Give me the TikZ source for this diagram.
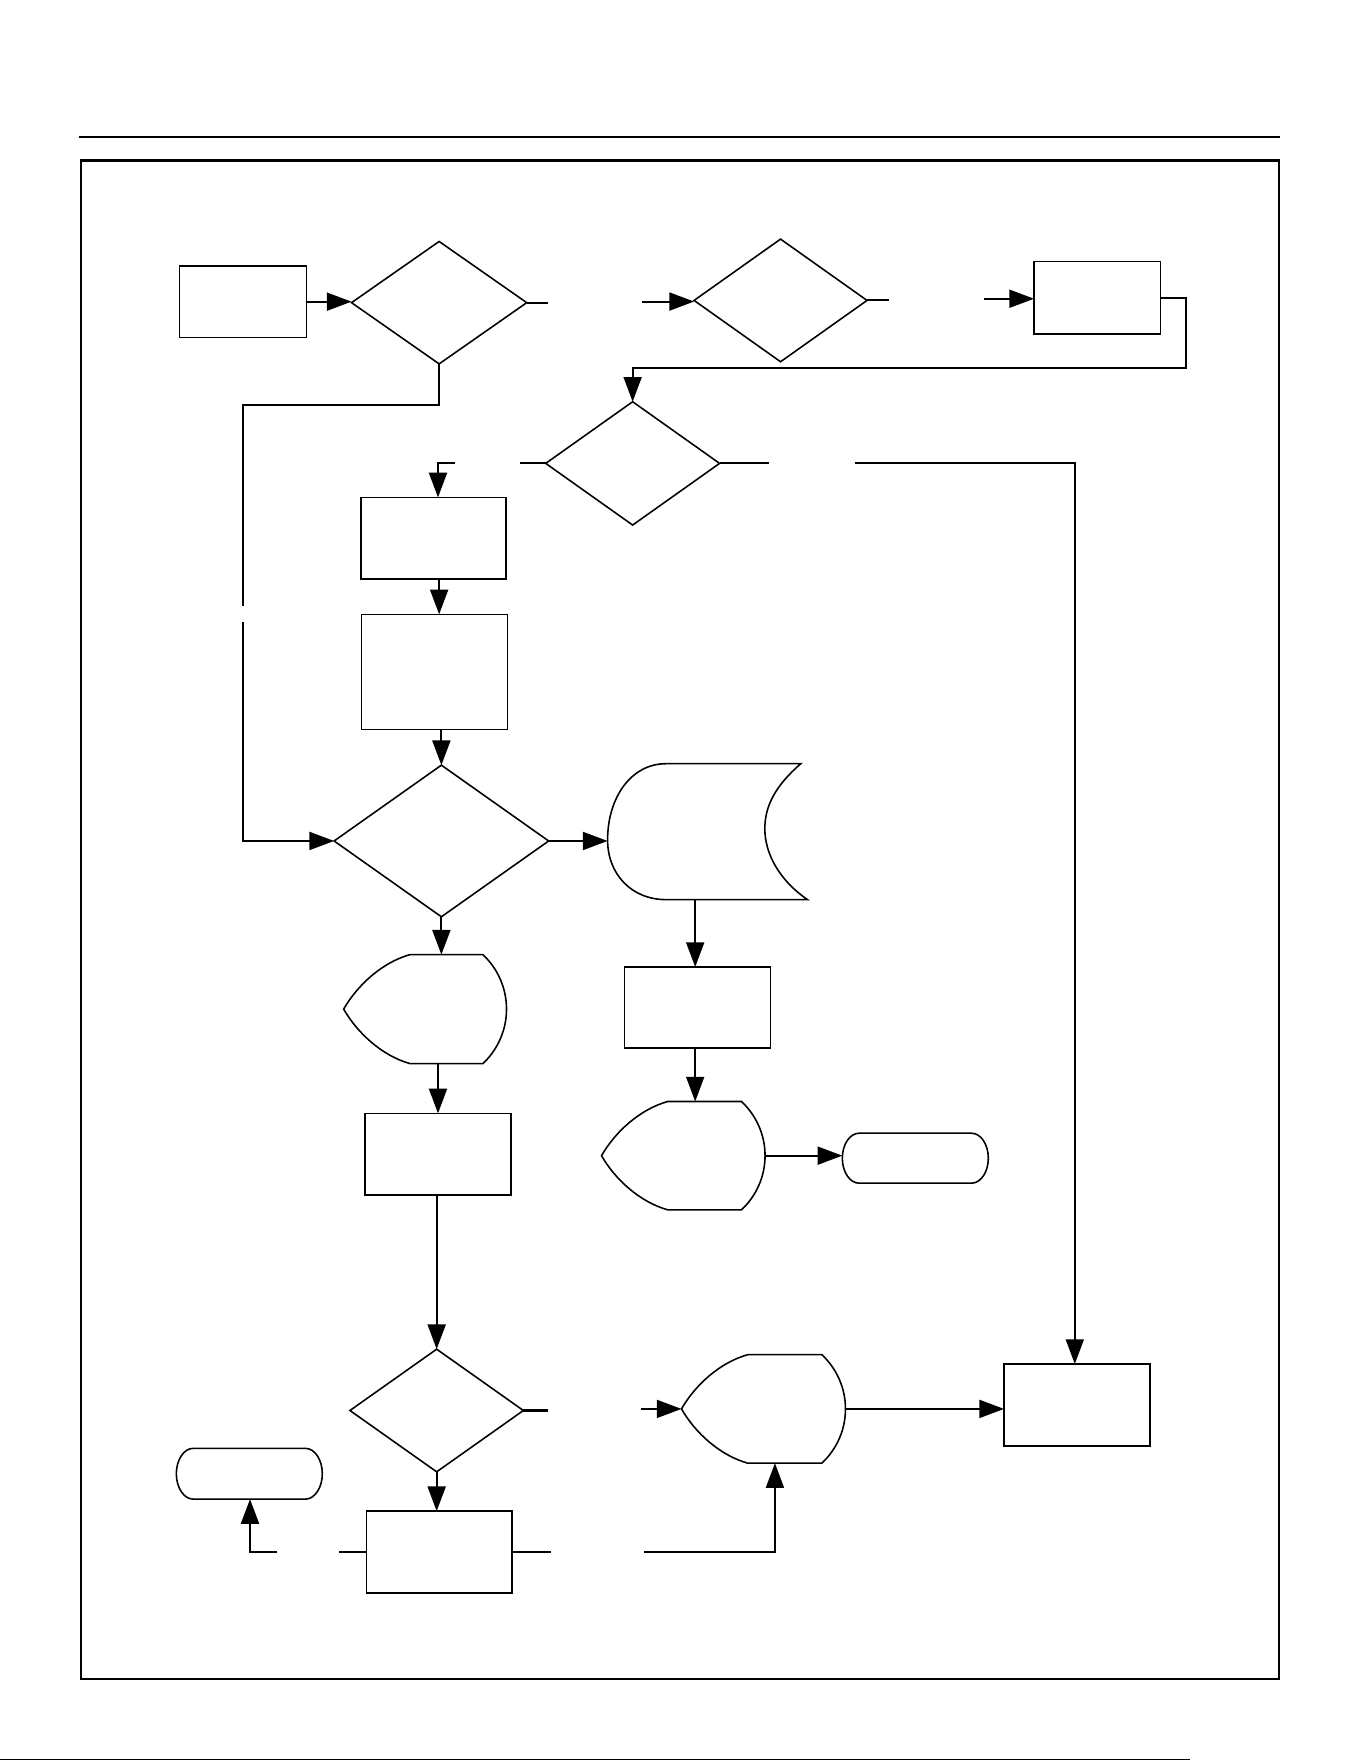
\documentclass[tikz,border=0pt]{standalone}
\usetikzlibrary{arrows.meta,calc}
\tikzset{
  shp/.style={draw, line width=0.7pt, inner sep=0pt, outer sep=0pt},
  ghost/.style={inner sep=0pt, outer sep=0pt, draw=none},
  outl/.style={line width=0.7pt, line join=miter},
  conn/.style={line width=0.9pt},
  arr/.style={conn, -{Triangle[length=11pt,width=8pt]}},
}
\newcommand{\mydiam}[1]{\draw[outl] (#1.north) -- (#1.east) -- (#1.south) -- (#1.west) -- cycle;}
\newcommand{\mydisp}[1]{\draw[outl]
  ($(#1.north west)+(59,0)$) -- ($(#1.north east)+(-21,0)$)
  .. controls ($(#1.north east)+(-7.6,12.6)$) and ($(#1.east)+(0,-18.4)$) .. (#1.east)
  .. controls ($(#1.east)+(0,18.4)$) and ($(#1.south east)+(-7.6,-12.6)$) .. ($(#1.south east)+(-21,0)$)
  -- ($(#1.south west)+(59,0)$)
  .. controls ($(#1.south west)+(34,-7)$) and ($(#1.west)+(12,21)$) .. (#1.west)
  .. controls ($(#1.west)+(12,-21)$) and ($(#1.north west)+(34,7)$) .. cycle;}
\newcommand{\myterm}[1]{\draw[outl]
  ($(#1.north west)+(15,0)$) -- ($(#1.north east)+(-15,0)$)
  .. controls ($(#1.north east)+(-6.7,0)$) and ($(#1.east)+(0,-12.3)$) .. (#1.east)
  .. controls ($(#1.east)+(0,12.3)$) and ($(#1.south east)+(-6.7,0)$) .. ($(#1.south east)+(-15,0)$)
  -- ($(#1.south west)+(15,0)$)
  .. controls ($(#1.south west)+(6.7,0)$) and ($(#1.west)+(0,12.3)$) .. (#1.west)
  .. controls ($(#1.west)+(0,-12.3)$) and ($(#1.north west)+(6.7,0)$) .. cycle;}
\begin{document}
\begin{tikzpicture}[x=0.5pt,y=-0.5pt]
\useasboundingbox (0,0) rectangle (1212,1568);
% page furniture
\draw[line width=1pt] (70,122) -- (1140,122);
\draw[line width=1pt] (72,143) rectangle (1139,1495);
\draw[line width=0.5pt] (0,1567) -- (1060,1567);

% boxes
\node[shp, minimum width=56.5pt, minimum height=32pt] (A) at (216.5,268.6) {};
\node[shp, minimum width=56.25pt, minimum height=32.3pt] (B) at (977,265.3) {};
\node[shp, minimum width=64.7pt, minimum height=36.2pt] (C) at (386,479.1) {};
\node[shp, minimum width=65pt, minimum height=51.2pt] (Dbox) at (386.7,598.2) {};
\node[shp, minimum width=65pt, minimum height=36pt] (E) at (621,897) {};
\node[shp, minimum width=65pt, minimum height=36.35pt] (H) at (390,1027.7) {};
\node[shp, minimum width=65pt, minimum height=36.5pt] (G) at (959,1251) {};
\node[shp, minimum width=64.75pt, minimum height=36.35pt] (I) at (391.2,1381.9) {};

% decisions
\node[ghost, minimum width=78pt, minimum height=54.5pt] (D1) at (391,269.5) {};
\node[ghost, minimum width=77pt, minimum height=54.6pt] (D2) at (695,267.5) {};
\node[ghost, minimum width=77.4pt, minimum height=54.9pt] (D3) at (563.3,412.6) {};
\node[ghost, minimum width=95.5pt, minimum height=67.5pt] (D4) at (393,748.8) {};
\node[ghost, minimum width=77.2pt, minimum height=54.6pt] (D5) at (388.8,1255.9) {};
\mydiam{D1}\mydiam{D2}\mydiam{D3}\mydiam{D4}\mydiam{D5}

% displays
\node[ghost, minimum width=72.8pt, minimum height=48.25pt] (F1) at (608.4,1029) {};
\node[ghost, minimum width=72.5pt, minimum height=48.5pt] (F2) at (378.5,898.5) {};
\node[ghost, minimum width=73pt, minimum height=48.3pt] (F3) at (679.8,1254.5) {};
\mydisp{F1}\mydisp{F2}\mydisp{F3}

% terminals
\node[ghost, minimum width=65pt, minimum height=22.25pt] (T1) at (815,1031.25) {};
\node[ghost, minimum width=65pt, minimum height=22.6pt] (T2) at (222,1312.2) {};
\myterm{T1}\myterm{T2}

% stored data
\node[ghost, minimum width=89pt, minimum height=60.5pt] (S) at (630,740.5) {};
\draw[outl] (593,680) -- (713,680) .. controls (690,700) and (681,718) .. (681,738)
  .. controls (681,760) and (694,784) .. (719,801) -- (593,801)
  .. controls (562,801) and (541,778) .. (541,748)
  .. controls (541,710) and (562,680) .. (593,680) -- cycle;

% coordinates
\coordinate (g1a) at (488,269.5);
\coordinate (g1b) at (572,268.5);
\coordinate (g2a) at (792,267.5);
\coordinate (g2b) at (876,266);
\coordinate (b1) at (1056,328);
\coordinate (g3a) at (463,412.6);
\coordinate (g3b) at (405,412.6);
\coordinate (g3c) at (390,412.6);
\coordinate (colC) at (391,0);
\coordinate (l1) at (216,361);
\coordinate (l2) at (216,540);
\coordinate (l3) at (216,554);
\coordinate (g4a) at (685,412.6);
\coordinate (g4b) at (761,412.6);
\coordinate (g4c) at (957,412.6);
\coordinate (colS) at (619,0);
\coordinate (colH) at (390,0);
\coordinate (g5a) at (488,1255.9);
\coordinate (g5b) at (571,1254.5);
\coordinate (g6a) at (302,1381.9);
\coordinate (g6b) at (247,1381.9);
\coordinate (g6c) at (222.6,1381.9);
\coordinate (g7a) at (491,1381.9);
\coordinate (g7b) at (573.5,1381.9);
\coordinate (g7c) at (690,1381.9);

% connectors
\draw[arr] (A.east) -- (A.east -| D1.west);
\draw[conn] (D1.east) -- (D1.east -| g1a);
\draw[arr] (g1b) -- (g1b -| D2.west);
\draw[conn] (D2.east) -- (D2.east -| g2a);
\draw[arr] (g2b) -- (g2b -| B.west);
\draw[arr] (B.east) -| (b1) -| (D3.north);
\draw[conn] (D3.west) -- (D3.west -| g3a);
\draw[arr] (g3b) -- (g3c) -- (g3c |- C.north);
\draw[arr] (colC |- C.south) -- (colC |- Dbox.north);
\draw[arr] (Dbox.south -| D4.north) -- (D4.north);
\draw[conn] (D1.south) |- (l1) -- (l2);
\draw[arr] (l3) |- (D4.west);
\draw[conn] (D3.east) -- (D3.east -| g4a);
\draw[arr] (g4b) -- (g4c) -- (g4c |- G.north);
\draw[arr] (D4.east) -- (D4.east -| S.west);
\draw[arr] (colS |- S.south) -- (colS |- E.north);
\draw[arr] (colS |- E.south) -- (colS |- F1.north);
\draw[arr] (F1.east) -- (F1.east -| T1.west);
\draw[arr] (D4.south) -- (D4.south |- F2.north);
\draw[arr] (colH |- F2.south) -- (colH |- H.north);
\draw[arr] (H.south -| D5.north) -- (D5.north);
\draw[conn] (D5.east) -- (D5.east -| g5a);
\draw[arr] (g5b) -- (g5b -| F3.west);
\draw[arr] (F3.east) -- (F3.east -| G.west);
\draw[arr] (D5.south) -- (D5.south |- I.north);
\draw[conn] (I.west) -- (g6a);
\draw[arr] (g6b) -- (g6c) -- (g6c |- T2.south);
\draw[conn] (I.east) -- (g7a);
\draw[arr] (g7b) -- (g7c) -- (g7c |- F3.south);
\end{tikzpicture}
\end{document}
